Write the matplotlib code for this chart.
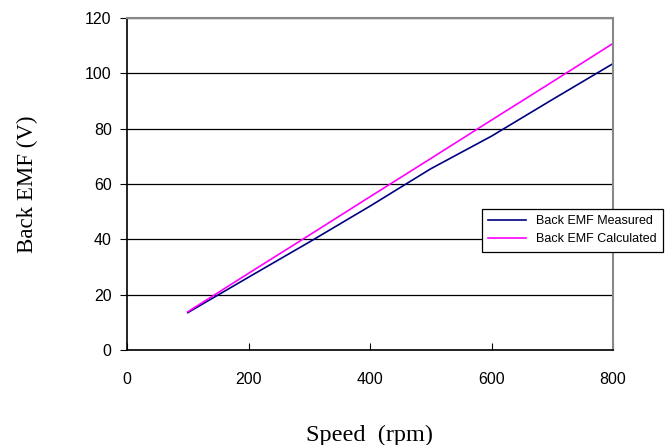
import matplotlib.pyplot as plt

speed = [100, 200, 300, 400, 500, 600, 700, 800]
emf_measured = [13.5, 26.3, 39.0, 52.0, 65.5, 77.3, 90.5, 103.5]
emf_calculated = [13.8, 27.7, 41.5, 55.4, 69.2, 83.1, 96.9, 110.8]

plt.rcParams["font.family"] = ["Liberation Sans", "DejaVu Sans"]

fig = plt.figure(figsize=(6.69, 4.45), dpi=100)
ax = fig.add_axes([127/669, 1 - 350/445, (613 - 127)/669, (350 - 18)/445])

ax.plot(speed, emf_measured, color="#000080", lw=1.2, label="Back EMF Measured")
ax.plot(speed, emf_calculated, color="#ff00ff", lw=1.2, label="Back EMF Calculated")

ax.set_xlim(0, 800)
ax.set_ylim(0, 120)
ax.set_xticks([0, 200, 400, 600, 800])
ax.set_yticks(range(0, 121, 20))
ax.yaxis.grid(True, color="black", lw=0.9)
ax.set_axisbelow(True)

for s in ["top", "right"]:
    ax.spines[s].set_color("#888888")
    ax.spines[s].set_linewidth(1.5)
for s in ["left", "bottom"]:
    ax.spines[s].set_color("black")
    ax.spines[s].set_linewidth(1.2)

ax.tick_params(axis="x", direction="in", length=5, pad=16, labelsize=11.5)
ax.tick_params(axis="y", direction="out", length=5, pad=6, labelsize=11.5)

ax.set_xlabel("Speed  (rpm)", family="Liberation Serif", fontsize=17.5, labelpad=27)
ax.set_ylabel("Back EMF (V)", family="Liberation Serif", fontsize=16.5, labelpad=34)

leg = ax.legend(loc="upper left", bbox_to_anchor=(482/669, 1 - 209/445),
                bbox_transform=fig.transFigure, fontsize=9, fancybox=False,
                framealpha=1, edgecolor="black", borderaxespad=0,
                handlelength=3.0, borderpad=0.5, labelspacing=0.5)
leg.get_frame().set_linewidth(0.9)

fig.savefig("out.png", dpi=100)
